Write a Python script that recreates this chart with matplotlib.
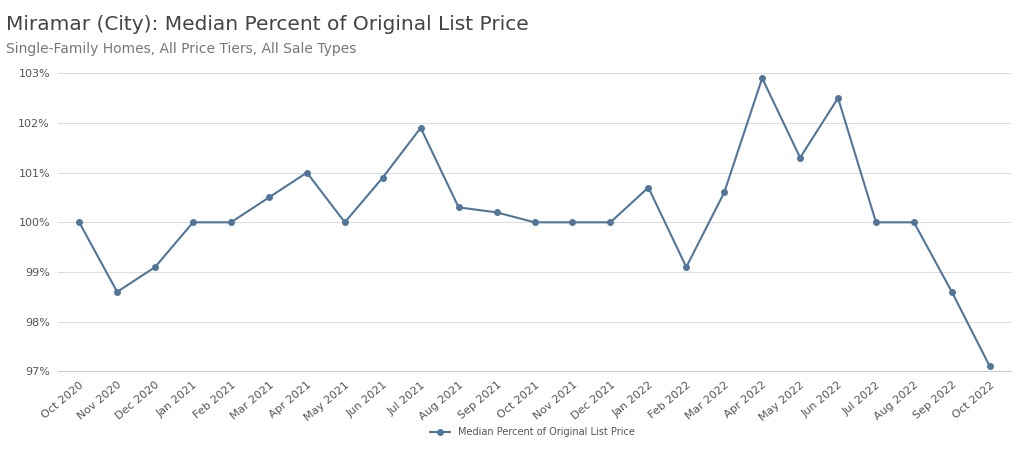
import matplotlib.pyplot as plt

months = ["Oct 2020", "Nov 2020", "Dec 2020", "Jan 2021", "Feb 2021", "Mar 2021",
          "Apr 2021", "May 2021", "Jun 2021", "Jul 2021", "Aug 2021", "Sep 2021",
          "Oct 2021", "Nov 2021", "Dec 2021", "Jan 2022", "Feb 2022", "Mar 2022",
          "Apr 2022", "May 2022", "Jun 2022", "Jul 2022", "Aug 2022", "Sep 2022",
          "Oct 2022"]
pct = [100, 98.6, 99.1, 100, 100, 100.5, 101, 100, 100.9, 101.9, 100.3, 100.2,
       100, 100, 100, 100.7, 99.1, 100.6, 102.9, 101.3, 102.5, 100, 100, 98.6, 97.1]
y_ticks = [97, 98, 99, 100, 101, 102, 103]

color = "#51769a"
text_color = "#555555"

fig = plt.figure(figsize=(10.24, 4.69), dpi=100)
ax = fig.add_axes([0.057, 0.208, 0.93, 0.636])

x = list(range(len(months)))
ax.plot(x, pct, color=color, linewidth=1.5, marker="o", markersize=4,
        label="Median Percent of Original List Price")

ax.set_ylim(97, 103)
ax.set_yticks(y_ticks)
ax.set_yticklabels([f"{v}%" for v in y_ticks], fontsize=8, color=text_color)
ax.set_xlim(-0.55, len(months) - 0.45)
ax.set_xticks(x)
ax.set_xticklabels(months, rotation=40, ha="right", rotation_mode="anchor",
                   fontsize=8, color=text_color)
ax.grid(axis="y", color="#dddddd", linewidth=0.8)
ax.set_axisbelow(True)
for s in ["top", "right", "left"]:
    ax.spines[s].set_visible(False)
ax.spines["bottom"].set_color("#cccccc")
ax.tick_params(length=0, pad=6)

fig.text(0.006, 0.935, "Miramar (City): Median Percent of Original List Price",
         fontsize=14.5, color="#444444")
fig.text(0.006, 0.888, "Single-Family Homes, All Price Tiers, All Sale Types",
         fontsize=10, color="#777777")

fig.legend(loc="center", bbox_to_anchor=(0.52, 0.078), frameon=False,
           fontsize=7, labelcolor=text_color)

fig.savefig("out.png", dpi=100)
